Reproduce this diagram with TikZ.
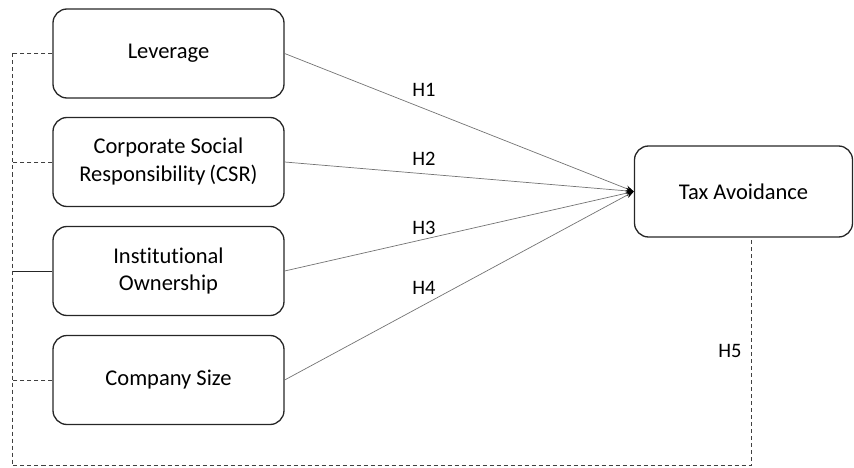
\documentclass[tikz,border=0pt]{standalone}
\usepackage{fontspec}
\setmainfont{Carlito}[Ligatures=NoCommon]
\usetikzlibrary{arrows.meta,calc}
\begin{document}
\begin{tikzpicture}[x=1pt,y=-1pt,
  box/.style={draw=black!85,line width=1.3pt,rounded corners=14pt,minimum width=231pt,minimum height=89pt,align=center,font=\fontsize{22.5}{28}\selectfont,inner sep=2pt},
  link/.style={draw=black!55,line width=0.7pt,-{Stealth[length=8pt,width=6pt,black]}},
  dsh/.style={draw=black!75,line width=0.9pt,dash pattern=on 4pt off 3pt},
  sld/.style={draw=black!85,line width=0.9pt},
  hlab/.style={font=\fontsize{20.5}{24}\selectfont,inner sep=0pt}]
\useasboundingbox (0,0) rectangle (854,468);
\node[box] (lev) at (168.5,53.5) {Leverage};
\node[box] (csr) at (168.5,162) {Corporate Social\\Responsibility\,(CSR)};
\node[box] (inst) at (168.5,271) {Institutional\\Ownership};
\node[box] (size) at (168.5,380) {Company Size};
\node[box,minimum width=218pt,minimum height=91pt] (tax) at (743.5,191.5) {Tax Avoidance};
\coordinate (tip) at (tax.west);
\draw[link] (lev.east) -- (tip);
\draw[link] (csr.east) -- (tip);
\draw[link] (inst.east) -- (tip);
\draw[link] (size.east) -- (tip);
\node[hlab] (h1) at (424,90) {H1};
\node[hlab] (h2) at (424,159) {H2};
\node[hlab] (h3) at (424,228) {H3};
\node[hlab] (h4) at (424,288) {H4};
\node[hlab] (h5) at (730,351) {H5};
% left bracket
\coordinate (bl) at (12,53.5);
\coordinate (bb) at (12,465);
\coordinate (br) at (751,465);
\coordinate (bt) at (751,237);
\draw[dsh] (lev.west) -- (bl);
\draw[dsh] (csr.west) -- (csr.west -| bl);
\draw[sld] (inst.west) -- (inst.west -| bl);
\draw[dsh] (size.west) -- (size.west -| bl);
\draw[dsh] (bl) -- (bb) -- (br) -- (bt);
\end{tikzpicture}
\end{document}
